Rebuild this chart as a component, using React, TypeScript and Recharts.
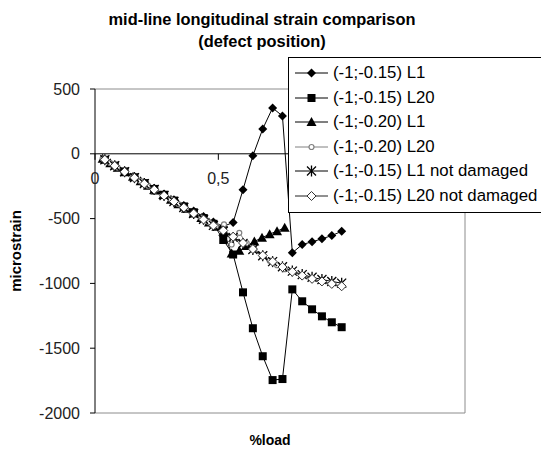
import { LineChart, Line, XAxis, YAxis, ReferenceLine, ReferenceDot } from 'recharts';

// load fractions for the -0.15 runs and the undamaged runs
const loadA = [
  0.04, 0.08, 0.12, 0.16, 0.2, 0.24, 0.28, 0.32, 0.36, 0.4, 0.44, 0.48, 0.52,
  0.56, 0.6, 0.64, 0.68, 0.72, 0.76, 0.8, 0.84, 0.88, 0.92, 0.96, 1.0,
];
// load fractions for the -0.20 runs (they stop earlier)
const loadB = [
  0.031, 0.062, 0.092, 0.123, 0.154, 0.185, 0.215, 0.246, 0.277, 0.308, 0.338, 0.369, 0.4,
  0.431, 0.462, 0.492, 0.523, 0.554, 0.585, 0.615, 0.646, 0.677, 0.708, 0.738, 0.769,
];

const l1_015 = [
  -45, -90, -134, -178, -222, -266, -310, -354, -398, -441, -484, -527, -560,
  -530, -277, -15, 192, 354, 292, -764, -700, -679, -656, -631, -598,
];
const l20_015 = [
  -46, -91, -136, -181, -226, -271, -316, -361, -406, -451, -496, -540, -665,
  -777, -1069, -1346, -1562, -1746, -1738, -1046, -1138, -1200, -1254, -1300, -1338,
];
const l1_020 = [
  -38, -72, -107, -142, -177, -212, -247, -283, -318, -354, -389, -424, -460,
  -495, -530, -562, -610, -770, -748, -712, -676, -648, -620, -597, -571,
];
const l20_020 = [
  -37, -71, -106, -141, -176, -211, -246, -282, -317, -352, -388, -423, -458,
  -493, -528, -558, -545, -700, -610, -690, -740, -785, -825, -860, -890,
];
const l1_nd = [
  -46, -92, -138, -184, -230, -276, -322, -368, -414, -460, -505, -552, -598,
  -645, -692, -738, -786, -832, -872, -905, -932, -953, -970, -985, -998,
];
const l20_nd = [
  -46, -93, -139, -185, -231, -277, -323, -369, -415, -461, -507, -553, -592,
  -640, -688, -735, -785, -832, -874, -910, -940, -965, -985, -1004, -1022,
];

const yTicks = [500, 0, -500, -1000, -1500, -2000];
const xTicks = [0, 0.5, 1, 1.5];
// labels 1 and 1,5 sit under the legend box in the original
const xLabelled = [0, 0.5];

const toPoints = (xs: number[], ys: number[]) => xs.map((x, i) => ({ x, y: ys[i] }));

const FONT = 'Arial, "Liberation Sans", sans-serif';

const series = [
  { name: '(-1;-0.15) L1', data: toPoints(loadA, l1_015), kind: 'diamond', color: '#000' },
  { name: '(-1;-0.15) L20', data: toPoints(loadA, l20_015), kind: 'square', color: '#000' },
  { name: '(-1;-0.20) L1', data: toPoints(loadB, l1_020), kind: 'triangle', color: '#000' },
  { name: '(-1;-0.20) L20', data: toPoints(loadB, l20_020), kind: 'circle', color: '#808080' },
  { name: '(-1;-0.15) L1 not damaged', data: toPoints(loadA, l1_nd), kind: 'star', color: '#000' },
  { name: '(-1;-0.15) L20 not damaged', data: toPoints(loadA, l20_nd), kind: 'openDiamond', color: '#222' },
];

const Marker = ({ cx, cy, kind }: { cx: number; cy: number; kind: string }) => {
  if (cx == null || cy == null) return null;
  switch (kind) {
    case 'diamond':
      return <polygon points={`${cx},${cy - 4.5} ${cx + 4.5},${cy} ${cx},${cy + 4.5} ${cx - 4.5},${cy}`} fill="#000" />;
    case 'square':
      return <rect x={cx - 4} y={cy - 4} width={8} height={8} fill="#000" />;
    case 'triangle':
      return <polygon points={`${cx},${cy - 5} ${cx + 5},${cy + 4} ${cx - 5},${cy + 4}`} fill="#000" />;
    case 'circle':
      return <circle cx={cx} cy={cy} r={2.5} fill="#fff" stroke="#808080" strokeWidth={1.2} />;
    case 'star':
      return (
        <g stroke="#000" strokeWidth={1.3}>
          <line x1={cx - 4.5} y1={cy - 4.5} x2={cx + 4.5} y2={cy + 4.5} />
          <line x1={cx - 4.5} y1={cy + 4.5} x2={cx + 4.5} y2={cy - 4.5} />
          <line x1={cx} y1={cy - 5.5} x2={cx} y2={cy + 5.5} />
        </g>
      );
    case 'openDiamond':
      return <polygon points={`${cx},${cy - 4.5} ${cx + 4.5},${cy} ${cx},${cy + 4.5} ${cx - 4.5},${cy}`} fill="#fff" stroke="#333" strokeWidth={1} />;
    default:
      return null;
  }
};

const XTick = (props: any) => {
  const { cx, cy, value } = props;
  return (
    <g>
      <line x1={cx} y1={cy} x2={cx} y2={cy + 6} stroke="#000" />
      {xLabelled.includes(value) && (
        <text x={cx} y={cy + 30} textAnchor="middle" fontSize={16} fontFamily={FONT} fill="#222">
          {String(value).replace('.', ',')}
        </text>
      )}
    </g>
  );
};

export default function App() {
  return (
    <div style={{ position: 'absolute', left: 0, top: 0, width: 541, height: 450, overflow: 'hidden', background: '#fff', fontFamily: FONT }}>
      <div style={{ position: 'absolute', left: 62, width: 400, top: 8, textAlign: 'center', fontWeight: 'bold', fontSize: 16.4, lineHeight: '22px', color: '#000' }}>
        mid-line longitudinal strain comparison
        <br />
        (defect position)
      </div>
      <LineChart width={541} height={450} margin={{ top: 89, right: 76, bottom: 37, left: 0 }}>
        <XAxis dataKey="x" type="number" domain={[0, 1.5]} ticks={xTicks} hide height={0} />
        <YAxis
          type="number"
          domain={[-2000, 500]}
          ticks={yTicks}
          width={95}
          interval={0}
          axisLine={{ stroke: '#000' }}
          tickLine={{ stroke: '#000' }}
          tickSize={5}
          tickMargin={10}
          tick={{ fontSize: 16, fontFamily: FONT, fill: '#222' }}
        />
        <ReferenceLine y={500} stroke="#8c8c8c" />
        <ReferenceLine y={-2000} stroke="#8c8c8c" />
        <ReferenceLine x={1.5} stroke="#8c8c8c" />
        <ReferenceLine y={0} stroke="#000" />
        {xTicks.map((t) => (
          <ReferenceDot key={t} x={t} y={0} r={0} ifOverflow="visible" shape={(p: any) => <XTick {...p} value={t} />} />
        ))}
        {series.map((s) => (
          <Line
            key={s.name}
            data={s.data}
            dataKey="y"
            name={s.name}
            type="linear"
            stroke={s.color}
            strokeWidth={1}
            isAnimationActive={false}
            activeDot={false}
            dot={(p: any) => <Marker key={`${s.kind}-${p.index}`} cx={p.cx} cy={p.cy} kind={s.kind} />}
          />
        ))}
      </LineChart>
      <div style={{ position: 'absolute', left: 0, top: 251, width: 0, height: 0 }}>
        <div style={{ position: 'absolute', left: 15, top: 0, transform: 'translate(-50%, -50%) rotate(-90deg)', fontWeight: 'bold', fontSize: 15, whiteSpace: 'nowrap' }}>
          microstrain
        </div>
      </div>
      <div style={{ position: 'absolute', left: 230, width: 80, top: 432, textAlign: 'center', fontWeight: 'bold', fontSize: 14 }}>
        %load
      </div>
      <div style={{ position: 'absolute', left: 288, top: 57, width: 270, height: 154, border: '1px solid #000', background: '#fff' }}>
        {series.map((s, i) => (
          <div key={s.name} style={{ position: 'absolute', left: 6, top: 5 + i * 24.6, height: 20, display: 'flex', alignItems: 'center', whiteSpace: 'nowrap' }}>
            <svg width={34} height={14}>
              <line x1={0} y1={7} x2={33} y2={7} stroke={s.color} />
              <Marker cx={16.5} cy={7} kind={s.kind} />
            </svg>
            <span style={{ marginLeft: 4, fontSize: 16.8, color: '#000' }}>{s.name}</span>
          </div>
        ))}
      </div>
    </div>
  );
}
